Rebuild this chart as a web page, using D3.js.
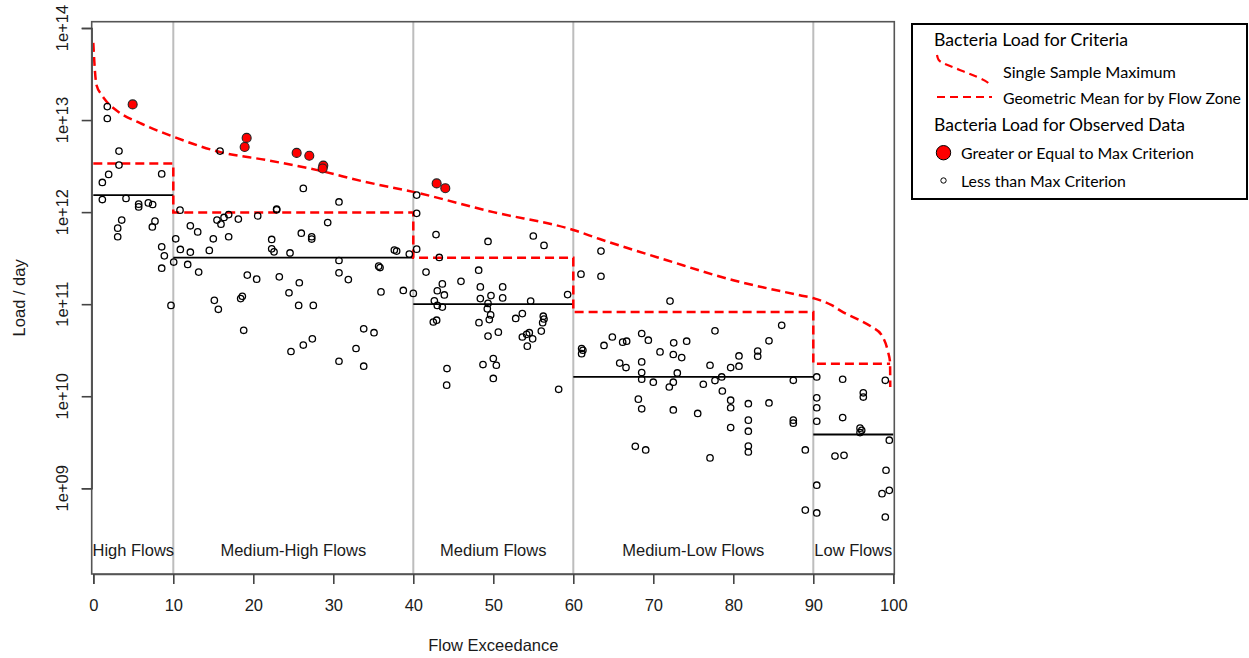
<!DOCTYPE html>
<html><head><meta charset="utf-8">
<script src="https://cdn.jsdelivr.net/npm/d3@7"></script>
<style>body{margin:0;background:#fff}svg{display:block}</style>
</head><body><svg id="c" width="1249" height="658"></svg>
<script>
// ---------------- DATA ----------------
const zoneBreaks = [0, 10, 40, 60, 90, 99.6];
const zoneNames = ["High Flows", "Medium-High Flows", "Medium Flows", "Medium-Low Flows", "Low Flows"];
const zoneLabelAt = [5, 25, 50, 75, 95];
const criteriaGeoMean = [3.38e12, 9.9e11, 3.2e11, 8.2e10, 2.25e10];
const observedGeoMean = [1.53e12, 3.2e11, 1.0e11, 1.62e10, 3.84e9];
const observedZoneEnd = [10, 40, 60, 90, 100];

const ssmExceedance = [0, 0.15, 0.4, 1, 1.5, 3.3, 5.8, 10, 15.8, 21.7, 28, 34, 40, 50, 60, 63.3, 71.7, 80, 88.3, 90.2, 92.3, 93.7, 95.8, 97.3, 98.55, 99.34, 99.59, 99.62];
const ssmLoad = [6.9e13, 4.0e13, 2.4e13, 1.9e13, 1.65e13, 1.2e13, 9.3e12, 6.6e12, 4.5e12, 3.67e12, 2.86e12, 2.13e12, 1.66e12, 1.0e12, 6.4e11, 5.1e11, 3.0e11, 1.82e11, 1.25e11, 1.15e11, 9.75e10, 8.2e10, 6.7e10, 5.66e10, 4.6e10, 3.03e10, 2.36e10, 1.26e10];

const exceedPoints = [[4.92,1.48e13],[19.17,6.4e12],[18.92,5.1e12],[25.42,4.4e12],[27.0,4.1e12],[28.75,3.2e12],[28.67,2.98e12],[42.92,2.05e12],[44.0,1.82e12]];

const highFlowPoints = [[1.75,1.40e13],[1.75,1.04e13],[3.21,4.6e12],[3.21,3.24e12],[1.92,2.57e12],[1.13,2.1e12],[8.55,2.6e12],[1.13,1.37e12],[4.09,1.41e12],[5.67,1.22e12],[5.67,1.14e12],[6.88,1.26e12],[7.42,1.21e12],[3.55,8.2e11],[3.05,6.7e11],[3.05,5.4e11],[7.71,7.98e11],[7.38,6.9e11],[8.55,4.2e11],[8.88,3.35e11],[8.55,2.46e11],[9.71,9.7e10]];

const medHighFlowPoints = [[10.84,1.05e12],[10.3,5.13e11],[10.88,3.93e11],[10.05,2.87e11],[12.13,7.1e11],[13.05,6.1e11],[12.13,3.67e11],[11.8,2.7e11],[13.17,2.23e11],[14.5,3.84e11],[15.0,5.13e11],[15.46,8.2e11],[15.96,7.4e11],[16.34,8.75e11],[16.92,9.4e11],[16.92,5.4e11],[15.13,1.1e11],[15.63,8.8e10],[18.13,8.4e11],[20.55,9.1e11],[19.25,2.07e11],[20.42,1.87e11],[18.42,1.15e11],[18.63,1.22e11],[18.8,5.2e10],[22.92,1.08e12],[22.92,1.06e12],[22.3,5.05e11],[22.3,3.99e11],[22.59,3.7e11],[24.59,3.6e11],[23.25,1.98e11],[24.46,1.33e11],[25.75,1.71e11],[25.67,9.7e10],[27.5,9.7e10],[26.25,1.81e12],[15.84,4.6e12],[26.0,5.9e11],[27.3,5.4e11],[27.3,5.1e11],[24.71,3.06e10],[26.25,3.6e10],[27.38,4.2e10],[29.3,7.7e11],[30.71,1.29e12],[30.71,2.98e11],[30.71,2.19e11],[31.88,1.85e11],[30.71,2.4e10],[32.84,3.3e10],[33.8,5.4e10],[33.8,2.12e10],[35.09,4.9e10],[35.67,2.59e11],[35.84,2.5e11],[35.96,1.36e11],[37.63,3.87e11],[37.92,3.77e11],[38.75,1.41e11],[39.5,3.5e11]];

const medFlowPoints = [[40.0,1.31e11],[40.42,1.53e12],[40.42,9.7e11],[40.42,3.96e11],[42.84,5.7e11],[43.25,3.22e11],[49.34,4.8e11],[55.0,5.5e11],[56.34,4.35e11],[41.59,2.23e11],[48.17,2.34e11],[45.96,1.77e11],[43.63,1.66e11],[48.38,1.54e11],[51.17,1.54e11],[43.0,1.40e11],[43.88,1.26e11],[48.38,1.15e11],[49.71,1.24e11],[51.17,1.17e11],[42.63,1.09e11],[43.0,9.7e10],[43.63,9.3e10],[49.34,1.02e11],[49.25,8.9e10],[49.67,7.65e10],[49.5,6.8e10],[48.21,6.3e10],[42.5,6.4e10],[42.92,6.7e10],[49.34,4.5e10],[50.63,4.97e10],[52.8,7.0e10],[53.63,7.9e10],[54.67,1.08e11],[56.25,7.4e10],[56.34,6.9e10],[56.17,6.3e10],[56.0,5.1e10],[53.63,4.4e10],[54.17,4.7e10],[54.5,4.9e10],[54.92,4.2e10],[54.25,3.5e10],[44.21,2.0e10],[48.71,2.21e10],[50.0,2.57e10],[50.38,2.17e10],[50.0,1.56e10],[44.17,1.32e10],[58.17,1.19e10],[59.29,1.27e11]];

const medLowFlowPoints = [[60.96,2.12e11],[63.46,3.77e11],[63.46,2.01e11],[72.09,1.08e11],[61.04,3.3e10],[61.2,3.16e10],[61.04,2.9e10],[63.84,3.56e10],[64.88,4.4e10],[66.17,3.87e10],[66.67,3.96e10],[68.55,4.8e10],[69.38,4.06e10],[65.8,2.29e10],[66.59,2.05e10],[68.55,2.36e10],[68.55,1.81e10],[70.84,3.03e10],[72.55,3.8e10],[74.17,3.96e10],[72.5,2.84e10],[73.55,2.63e10],[73.0,1.79e10],[77.71,5.13e10],[77.09,2.17e10],[79.67,2.05e10],[80.71,2.74e10],[80.71,2.12e10],[83.05,3.1e10],[83.05,2.72e10],[84.46,4.0e10],[86.05,5.9e10],[78.55,1.62e10],[68.55,1.53e10],[70.0,1.42e10],[72.0,1.26e10],[72.5,1.42e10],[76.25,1.35e10],[77.71,1.48e10],[78.63,1.14e10],[79.67,9.06e9],[79.67,7.5e9],[81.88,8.3e9],[84.46,8.45e9],[81.88,5.5e9],[81.88,4.17e9],[81.88,2.88e9],[81.88,2.48e9],[79.67,4.57e9],[87.5,5.5e9],[87.5,5.1e9],[89.0,2.61e9],[89.0,5.8e8],[68.13,9.3e9],[68.55,7.3e9],[72.5,7.1e9],[75.55,6.5e9],[67.75,2.86e9],[69.05,2.61e9],[77.09,2.14e9],[87.5,1.49e10]];

const lowFlowPoints = [[90.43,1.62e10],[93.67,1.53e10],[99.0,1.49e10],[96.25,1.09e10],[96.25,9.8e9],[90.43,9.6e9],[90.43,7.5e9],[90.43,5.35e9],[93.67,5.87e9],[95.84,4.5e9],[96.05,4.27e9],[95.84,4.03e9],[99.5,3.33e9],[92.71,2.24e9],[93.84,2.28e9],[99.09,1.57e9],[90.43,1.08e9],[99.5,9.5e8],[98.59,8.75e8],[90.43,5.4e8],[99.0,4.88e8]];

const xTicks = [0, 10, 20, 30, 40, 50, 60, 70, 80, 90, 100];
const yTicks = [1e9, 1e10, 1e11, 1e12, 1e13, 1e14];
const yTickLabels = ["1e+09", "1e+10", "1e+11", "1e+12", "1e+13", "1e+14"];
const xTitle = "Flow Exceedance";
const yTitle = "Load / day";
const legendTitles = ["Bacteria Load for Criteria", "Bacteria Load for Observed Data"];
const legendItems = ["Single Sample Maximum", "Geometric Mean for by Flow Zone", "Greater or Equal to Max Criterion", "Less than Max Criterion"];

// ---------------- DRAW ----------------
const svg = d3.select("#c");
const box = {left: 91.7, right: 894.3, top: 21.7, bottom: 574};
const x = d3.scaleLinear().domain([0, 100]).range([93.3, 893.3]);
const y = d3.scaleLog().domain([1e9, 1e14]).range([488.3, 28]);
const font = "'Liberation Sans', Arial, sans-serif";
const fs = 16.5;
const txt = "#1a1a1a";
const dash = "9,5";

// zone dividers
svg.append("g").selectAll("line").data(zoneBreaks.slice(1, -1)).join("line")
  .attr("x1", d => x(d)).attr("x2", d => x(d))
  .attr("y1", box.top).attr("y2", box.bottom)
  .attr("stroke", "#bdbdbd").attr("stroke-width", 2);

// observed geo mean (black solid)
svg.append("g").selectAll("line").data(observedGeoMean).join("line")
  .attr("x1", (d, i) => x(zoneBreaks[i])).attr("x2", (d, i) => x(observedZoneEnd[i]))
  .attr("y1", d => y(d)).attr("y2", d => y(d))
  .attr("stroke", "#000").attr("stroke-width", 1.8);

// criteria geometric mean step (red dashed)
const stepPts = [];
criteriaGeoMean.forEach((v, i) => { stepPts.push([zoneBreaks[i], v]); stepPts.push([zoneBreaks[i + 1], v]); });
const line = d3.line().x(d => x(d[0])).y(d => y(d[1]));
svg.append("path").attr("d", line(stepPts)).attr("fill", "none")
  .attr("stroke", "#ff0000").attr("stroke-width", 2.5).attr("stroke-dasharray", dash);

// single sample maximum curve
const ssm = ssmExceedance.map((e, i) => [e, ssmLoad[i]]);
svg.append("path").attr("d", d3.line().curve(d3.curveMonotoneX).x(d => x(d[0])).y(d => y(d[1]))(ssm)).attr("fill", "none")
  .attr("stroke", "#ff0000").attr("stroke-width", 2.5).attr("stroke-dasharray", dash);

// open points
const openPts = [].concat(highFlowPoints, medHighFlowPoints, medFlowPoints, medLowFlowPoints, lowFlowPoints);
svg.append("g").selectAll("circle").data(openPts).join("circle")
  .attr("cx", d => x(d[0])).attr("cy", d => y(d[1])).attr("r", 3.2)
  .attr("fill", "none").attr("stroke", "#000").attr("stroke-width", 1.3);

// exceeding points
svg.append("g").selectAll("circle").data(exceedPoints).join("circle")
  .attr("cx", d => x(d[0])).attr("cy", d => y(d[1])).attr("r", 4.5)
  .attr("fill", "#ff0000").attr("stroke", "#222").attr("stroke-width", 1.1);

// box
svg.append("rect").attr("x", box.left).attr("y", box.top)
  .attr("width", box.right - box.left).attr("height", box.bottom - box.top)
  .attr("fill", "none").attr("stroke", "#555").attr("stroke-width", 1.6);

// x axis
const gx = svg.append("g").attr("transform", `translate(0,${box.bottom})`)
  .call(d3.axisBottom(x).tickValues(xTicks).tickSize(10).tickPadding(15).tickFormat(d3.format("d")));
gx.select(".domain").attr("stroke", "#555").attr("stroke-width", 1.6);
gx.selectAll(".tick line").attr("stroke", "#444").attr("stroke-width", 1.6);
gx.selectAll(".tick text").attr("font-family", font).attr("font-size", fs).attr("fill", txt);

// y axis
const gy = svg.append("g").attr("transform", `translate(${box.left},0)`)
  .call(d3.axisLeft(y).tickValues(yTicks).tickSize(10).tickFormat(""));
gy.select(".domain").attr("stroke", "#555").attr("stroke-width", 1.6);
gy.selectAll(".tick line").attr("stroke", "#444").attr("stroke-width", 1.6);
svg.append("g").selectAll("text").data(yTicks).join("text")
  .attr("transform", d => `translate(68,${y(d)}) rotate(-90)`)
  .attr("text-anchor", "middle").attr("font-family", font).attr("font-size", fs).attr("fill", txt)
  .text((d, i) => yTickLabels[i]);

// titles
svg.append("text").attr("x", x(50)).attr("y", 651).attr("text-anchor", "middle")
  .attr("font-family", font).attr("font-size", fs).attr("fill", txt).text(xTitle);
svg.append("text").attr("transform", `translate(25,${(box.top + box.bottom) / 2}) rotate(-90)`)
  .attr("text-anchor", "middle").attr("font-family", font).attr("font-size", fs).attr("fill", txt).text(yTitle);

// zone labels
svg.append("g").selectAll("text").data(zoneNames).join("text")
  .attr("x", (d, i) => x(zoneLabelAt[i])).attr("y", 556).attr("text-anchor", "middle")
  .attr("font-family", font).attr("font-size", fs).attr("fill", txt).text(d => d);

// legend
const lf = "Lato, 'Open Sans', sans-serif";
const lg = svg.append("g");
lg.append("rect").attr("x", 912).attr("y", 24).attr("width", 335).attr("height", 175)
  .attr("fill", "#fff").attr("stroke", "#000").attr("stroke-width", 2);
const baseFs = 17.5;
const lt = (s, tx, ty, w) => {
  const t = lg.append("text").attr("x", tx).attr("y", ty).attr("font-family", lf)
    .attr("font-size", baseFs).attr("fill", "#000").text(s);
  const nat = t.node().getComputedTextLength();
  if (nat > w) t.attr("font-size", baseFs * w / nat);
  else t.attr("textLength", w).attr("lengthAdjust", "spacingAndGlyphs");
  return t;
};
lt(legendTitles[0], 934, 46, 194);
lt(legendItems[0], 1003, 78, 173);
lt(legendItems[1], 1003, 103.5, 238);
lt(legendTitles[1], 934, 130.5, 251);
lt(legendItems[2], 961, 159, 233);
lt(legendItems[3], 961, 186.5, 165);
const symCurve = [[0, 0], [1, 5], [5, 8], [23, 15], [43, 23], [51, 27], [53, 31]];
lg.append("path").attr("d", d3.line().curve(d3.curveBasis).x(d => 937 + d[0]).y(d => 55 + d[1])(symCurve))
  .attr("fill", "none").attr("stroke", "#ff0000").attr("stroke-width", 2.2).attr("stroke-dasharray", "8,5");
lg.append("line").attr("x1", 937).attr("x2", 992).attr("y1", 97).attr("y2", 97)
  .attr("stroke", "#ff0000").attr("stroke-width", 2.2).attr("stroke-dasharray", "8,5");
lg.append("circle").attr("cx", 943.5).attr("cy", 152.7).attr("r", 7.2)
  .attr("fill", "#ff0000").attr("stroke", "#000").attr("stroke-width", 1);
lg.append("circle").attr("cx", 943.5).attr("cy", 180.5).attr("r", 2.7)
  .attr("fill", "none").attr("stroke", "#000").attr("stroke-width", 1);
</script>
</body></html>
